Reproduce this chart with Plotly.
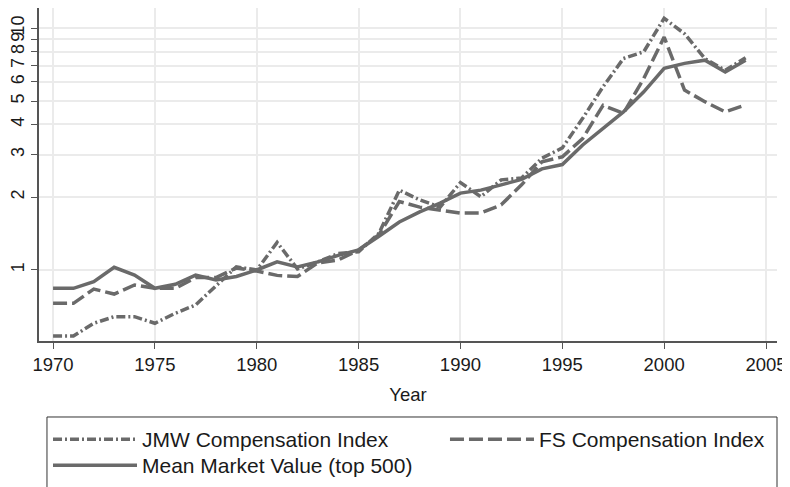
import plotly.graph_objects as go

years = list(range(1970, 2005))

jmw = [0.533, 0.533, 0.602, 0.641, 0.641, 0.602, 0.662, 0.717, 0.86, 1.03,
       1.00, 1.30, 1.01, 1.08, 1.17, 1.19, 1.42, 2.14, 1.95, 1.82,
       2.30, 2.01, 2.36, 2.40, 2.90, 3.20, 4.24, 5.73, 7.50, 8.00,
       11.0, 9.50, 7.50, 6.70, 7.56]

fs = [0.728, 0.728, 0.834, 0.795, 0.867, 0.84, 0.84, 0.93, 0.93, 1.02,
      0.99, 0.95, 0.94, 1.07, 1.10, 1.21, 1.40, 1.92, 1.82, 1.77,
      1.72, 1.72, 1.86, 2.25, 2.80, 2.94, 3.50, 4.80, 4.45, 6.20,
      9.20, 5.55, 4.97, 4.51, 4.82]

mmv = [0.84, 0.84, 0.895, 1.026, 0.953, 0.84, 0.873, 0.953, 0.91, 0.94,
       1.00, 1.08, 1.03, 1.08, 1.15, 1.21, 1.38, 1.58, 1.74, 1.89,
       2.08, 2.14, 2.25, 2.37, 2.62, 2.73, 3.29, 3.85, 4.51, 5.46,
       6.83, 7.16, 7.38, 6.60, 7.38]

series_names = ["JMW Compensation Index", "FS Compensation Index",
                "Mean Market Value (top 500)"]
x_ticks = [1970, 1975, 1980, 1985, 1990, 1995, 2000, 2005]
y_ticks = [1, 2, 3, 4, 5, 6, 7, 8, 9, 10]

line_color = "#6a6a6a"
dashes = ["9px,3px,2px,3px", "14px,5px", "solid"]
legend_ids = ["legend", "legend2", "legend3"]

fig = go.Figure()
for name, vals, dash, lg in zip(series_names, [jmw, fs, mmv], dashes, legend_ids):
    fig.add_trace(go.Scatter(
        x=years, y=vals, mode="lines", name=name, legend=lg, showlegend=True,
        line=dict(color=line_color, width=3.5, dash=dash),
    ))

font_family = "Liberation Sans, Arial, sans-serif"
legend_font = dict(size=21, family=font_family, color="#1a1a1a")
legend_common = dict(orientation="v", xanchor="left", yanchor="top",
                     borderwidth=0, bgcolor="rgba(0,0,0,0)",
                     font=legend_font, itemwidth=84)

# the page body adds an 8px offset, so the figure is 8px smaller than the window
fig.update_layout(
    width=782, height=479,
    margin=dict(l=31, r=13, t=0, b=146, autoexpand=False),
    plot_bgcolor="white", paper_bgcolor="white",
    showlegend=True,
    font=dict(family=font_family, size=18, color="#1a1a1a"),
    legend=dict(x=0.0122, y=-0.2342, **legend_common),
    legend2=dict(x=0.5501, y=-0.2342, **legend_common),
    legend3=dict(x=0.0122, y=-0.3123, **legend_common),
    shapes=[dict(type="rect", xref="paper", yref="paper",
                 x0=0.0108, x1=1.0, y0=-0.48, y1=-0.2282,
                 line=dict(color="#333333", width=1), layer="above")],
)
fig.update_xaxes(
    range=[1969.31, 2005.54], tickvals=x_ticks,
    ticks="outside", ticklen=6, tickwidth=1.2, tickcolor="#555555",
    showline=True, linecolor="#555555", linewidth=1.5,
    showgrid=True, gridcolor="#ebebeb", gridwidth=2, zeroline=False,
    tickfont=dict(size=18.5),
    title=dict(text="Year", standoff=14, font=dict(size=18.5)),
)
fig.update_yaxes(
    type="log", range=[-0.2938, 1.0840],
    tickvals=y_ticks, ticktext=[str(v) for v in y_ticks], tickangle=-90,
    ticks="outside", ticklen=6, tickwidth=1.2, tickcolor="#555555",
    showline=True, linecolor="#555555", linewidth=1.5,
    showgrid=True, gridcolor="#ebebeb", gridwidth=2, zeroline=False,
    tickfont=dict(size=18),
)

fig.write_html("out.html")
